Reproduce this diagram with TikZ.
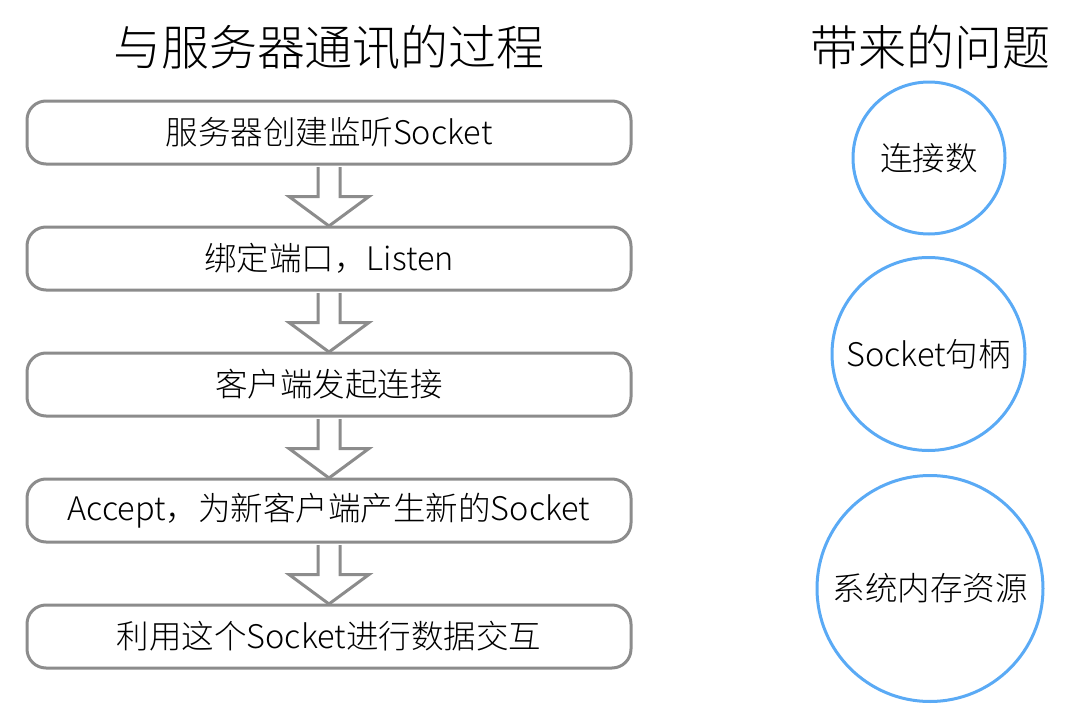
\documentclass[tikz,border=0pt]{standalone}
\usepackage{fontspec}
\setmainfont{Noto Sans CJK SC}[UprightFont={* Light}]
\usetikzlibrary{calc}
\definecolor{boxgray}{HTML}{8C8C8C}
\definecolor{circblue}{HTML}{5AAAF5}
\begin{document}
\begin{tikzpicture}[x=1pt,y=-1pt,
  stepbox/.style={draw=boxgray,line width=3pt,rounded corners=19pt,minimum width=604pt,minimum height=63pt,inner sep=0pt,font=\fontsize{32.5}{36}\selectfont,text=black},
  issue/.style={draw=circblue,line width=3pt,circle,inner sep=0pt,font=\fontsize{32.5}{36}\selectfont,text=black},
  heading/.style={font=\fontsize{48}{54}\selectfont,text=black,inner sep=0pt},
  blockarrow/.style={draw=boxgray,line width=3pt,fill=white,line join=miter}]
\useasboundingbox (0,0) rectangle (1080,720);
\node[heading] (t1) at (329,47) {与服务器通讯的过程};
\node[heading] (t2) at (930,47) {带来的问题};
\node[stepbox] (b1) at (329,132.5) {服务器创建监听Socket};
\node[stepbox] (b2) at (329,258.5) {绑定端口，Listen};
\node[stepbox] (b3) at (329,384.5) {客户端发起连接};
\node[stepbox] (b4) at (329,510.5) {Accept，为新客户端产生新的Socket};
\node[stepbox] (b5) at (329,636.5) {利用这个Socket进行数据交互};
\foreach \a/\b in {b1/b2,b2/b3,b3/b4,b4/b5}{
  \draw[blockarrow] ($(\a.south)+(-11,1.5)$) -- ($(\a.south)+(-11,31)$) -- ($(\a.south)+(-40,31)$)
    -- ($(\b.north)+(0,0.5)$) -- ($(\a.south)+(40,31)$) -- ($(\a.south)+(11,31)$) -- ($(\a.south)+(11,1.5)$);
}
\node[issue,minimum size=152pt] (c1) at (929,158) {连接数};
\node[issue,minimum size=193pt] (c2) at (928.5,354) {Socket句柄};
\node[issue,minimum size=226pt] (c3) at (930,588.5) {系统内存资源};
\end{tikzpicture}
\end{document}
